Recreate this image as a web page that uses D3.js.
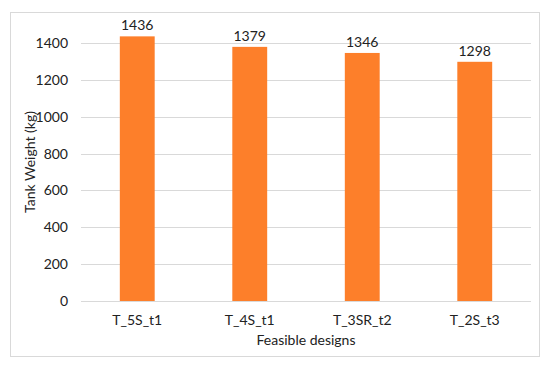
<!DOCTYPE html>
<html>
<head>
<meta charset="utf-8">
<script src="https://cdn.jsdelivr.net/npm/d3@7"></script>
<style>
  body { margin: 0; background: #fff; }
  text { font-family: Lato, "Open Sans", sans-serif; fill: #222; }
</style>
</head>
<body>
<div id="chart"></div>
<script>
var designs = ["T_5S_t1", "T_4S_t1", "T_3SR_t2", "T_2S_t3"];
var weights = [1436, 1379, 1346, 1298];
var yTicks = [0, 200, 400, 600, 800, 1000, 1200, 1400];

var width = 550,
    height = 366;

var margin = {top: 43, right: 19, bottom: 65, left: 81};

var svg = d3.select("#chart")
  .append("svg")
  .attr("width", width)
  .attr("height", height);

// chart frame
svg.append("rect")
  .attr("x", 10.5)
  .attr("y", 12.5)
  .attr("width", 529)
  .attr("height", 344)
  .attr("fill", "#fff")
  .attr("stroke", "#d9d9d9");

var x = d3.scaleBand()
  .domain(designs)
  .range([margin.left, width - margin.right])
  .paddingInner(0.69)
  .paddingOuter(0.345);

var y = d3.scaleLinear()
  .domain([0, 1400])
  .range([height - margin.bottom, margin.top]);

// gridlines
svg.append("g")
  .selectAll("line")
  .data(yTicks)
  .enter().append("line")
  .attr("x1", margin.left)
  .attr("x2", width - margin.right)
  .attr("y1", function(d) { return Math.round(y(d)) + 0.5 })
  .attr("y2", function(d) { return Math.round(y(d)) + 0.5 })
  .attr("stroke", "#d9d9d9");

// y axis labels
var yAxis = d3.axisLeft(y)
  .tickValues(yTicks)
  .tickFormat(d3.format("d"))
  .tickSize(0)
  .tickPadding(13);

svg.append("g")
  .attr("transform", "translate(" + margin.left + ",0)")
  .call(yAxis)
  .call(function(g) { g.select(".domain").remove() })
  .selectAll("text")
  .attr("font-size", 14)
  .style("font-family", "Lato, 'Open Sans', sans-serif")
  .attr("fill", "#222");

// bars
svg.selectAll(".bar")
  .data(weights)
  .enter().append("rect")
  .attr("class", "bar")
  .attr("x", function(d, i) { return x(designs[i]) })
  .attr("width", x.bandwidth())
  .attr("y", function(d) { return y(d) })
  .attr("height", function(d) { return y(0) - y(d) })
  .attr("fill", "#fd7f2a");

// value labels
svg.selectAll(".val")
  .data(weights)
  .enter().append("text")
  .attr("class", "val")
  .attr("x", function(d, i) { return x(designs[i]) + x.bandwidth() / 2 })
  .attr("y", function(d) { return y(d) - 6 })
  .attr("text-anchor", "middle")
  .attr("font-size", 14)
  .text(function(d) { return d });

// x axis labels
var xAxis = d3.axisBottom(x).tickSize(0).tickPadding(14);

svg.append("g")
  .attr("transform", "translate(0," + y(0) + ")")
  .call(xAxis)
  .call(function(g) { g.select(".domain").remove() })
  .selectAll("text")
  .attr("font-size", 14)
  .style("font-family", "Lato, 'Open Sans', sans-serif")
  .attr("fill", "#222");

// axis titles
svg.append("text")
  .attr("x", (margin.left + width - margin.right) / 2)
  .attr("y", 345)
  .attr("text-anchor", "middle")
  .attr("font-size", 14)
  .text("Feasible designs");

svg.append("text")
  .attr("transform", "translate(35,162) rotate(-90)")
  .attr("text-anchor", "middle")
  .attr("font-size", 14)
  .text("Tank Weight (kg)");
</script>
</body>
</html>
